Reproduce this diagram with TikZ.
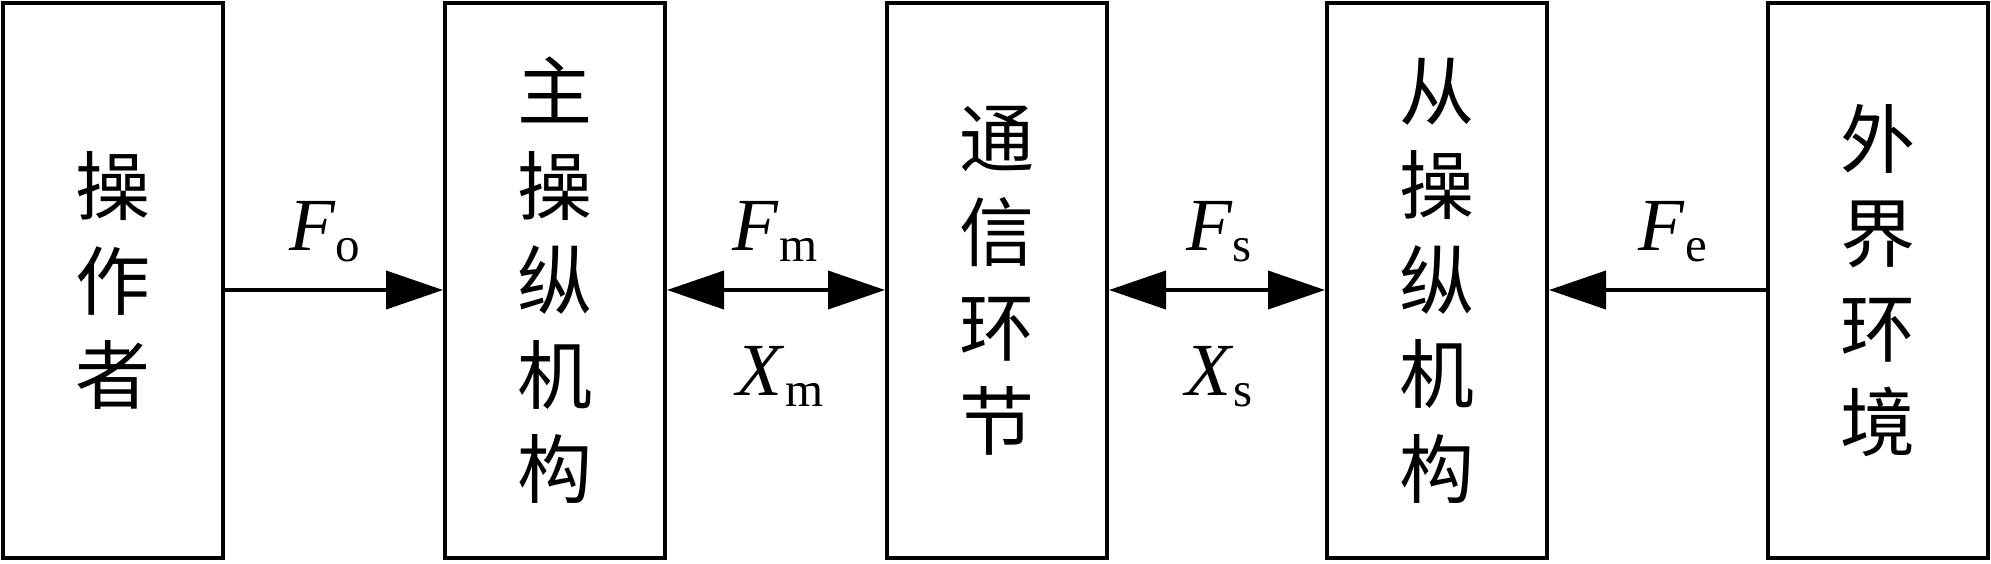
\documentclass[tikz,border=0pt]{standalone}
\usepackage{fontspec}
\setmainfont{Liberation Serif}
\newfontfamily\cjk{Noto Sans CJK SC}
\usetikzlibrary{arrows.meta}
\begin{document}
\begin{tikzpicture}[x=1pt,y=1pt,
  blk/.style={draw, line width=4pt, minimum width=220pt, minimum height=555pt,
    inner sep=0pt, align=center, font=\cjk\fontsize{75}{94.5}\selectfont},
  conn/.style={line width=4pt},
  lbl/.style={anchor=base, inner sep=0pt, font=\fontsize{75}{75}\selectfont}]
\useasboundingbox (0,0) rectangle (1991,-563);
\node[blk] (op) at (113,-280.5) {操\\作\\者};
\node[blk] (ms) at (555,-280.5) {主\\操\\纵\\机\\构};
\node[blk] (cm) at (997,-280.5) {通\\信\\环\\节};
\node[blk] (sl) at (1437,-280.5) {从\\操\\纵\\机\\构};
\node[blk] (en) at (1878,-280.5) {外\\界\\环\\境};
\coordinate (ay) at (0,-290);
\draw[conn,-{Triangle[length=57pt,width=38pt]}] (op.east |- ay) -- (ms.west |- ay);
\draw[conn,{Triangle[length=57pt,width=38pt]}-{Triangle[length=57pt,width=38pt]}] (ms.east |- ay) -- (cm.west |- ay);
\draw[conn,{Triangle[length=57pt,width=38pt]}-{Triangle[length=57pt,width=38pt]}] (cm.east |- ay) -- (sl.west |- ay);
\draw[conn,-{Triangle[length=57pt,width=38pt]}] (en.west |- ay) -- (sl.east |- ay);
\node[lbl] (lo) at (325,-250) {\textit{F}\raisebox{-11pt}{\fontsize{49}{49}\selectfont o}};
\node[lbl] (lfm) at (775,-250) {\textit{F}\raisebox{-11pt}{\fontsize{49}{49}\selectfont m}};
\node[lbl] (lxm) at (780,-395) {\textit{X}\raisebox{-11pt}{\fontsize{49}{49}\selectfont m}};
\node[lbl] (lfs) at (1219,-250) {\textit{F}\raisebox{-11pt}{\fontsize{49}{49}\selectfont s}};
\node[lbl] (lxs) at (1219,-395) {\textit{X}\raisebox{-11pt}{\fontsize{49}{49}\selectfont s}};
\node[lbl] (le) at (1673,-250) {\textit{F}\raisebox{-11pt}{\fontsize{49}{49}\selectfont e}};
\end{tikzpicture}
\end{document}
